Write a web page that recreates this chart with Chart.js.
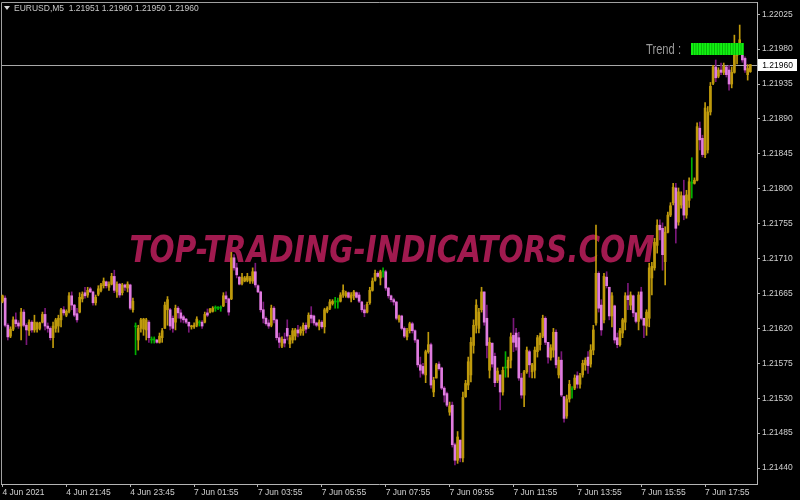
<!DOCTYPE html>
<html>
<head>
<meta charset="utf-8">
<title>EURUSD M5</title>
<script src="https://cdn.jsdelivr.net/npm/chart.js@4.4.1/dist/chart.umd.min.js"></script>
<style>
  html, body { margin: 0; padding: 0; background: #000; }
  #wrap { width: 800px; height: 500px; }
</style>
</head>
<body>
<div id="wrap"><canvas id="chart" width="800" height="500"></canvas></div>
<script>
// EURUSD M5 candles, 4 Jun 2021 evening to 7 Jun 2021 evening
const symbol = 'EURUSD,M5';
const watermarkText = 'TOP-TRADING-INDICATORS.COM';
const trendLabel = 'Trend :';

// time axis labels (one every 24 bars)
const timeLabels = ['4 Jun 2021', '4 Jun 21:45', '4 Jun 23:45', '7 Jun 01:55', '7 Jun 03:55', '7 Jun 05:55',
  '7 Jun 07:55', '7 Jun 09:55', '7 Jun 11:55', '7 Jun 13:55', '7 Jun 15:55', '7 Jun 17:55'];
const timeLabelIndex = [0, 24, 48, 72, 96, 120, 144, 168, 192, 216, 240, 264];

// price axis labels
const priceTicks = [1.22025, 1.21980, 1.21935, 1.21890, 1.21845, 1.21800, 1.21755,
  1.21710, 1.21665, 1.21620, 1.21575, 1.21530, 1.21485, 1.21440];

const open = [
1.21655,1.21659,1.21624,1.21610,1.21619,1.21631,1.21627,1.21623,1.21641,1.21624,
1.21617,1.21628,1.21618,1.21619,1.21620,1.21628,1.21638,1.21623,1.21620,1.21608,
1.21620,1.21623,1.21631,1.21644,1.21637,1.21642,1.21662,1.21650,1.21639,1.21641,
1.21658,1.21666,1.21663,1.21671,1.21667,1.21653,1.21664,1.21669,1.21675,1.21680,
1.21673,1.21677,1.21687,1.21667,1.21677,1.21666,1.21676,1.21672,1.21676,1.21644,
1.21622,1.21605,1.21620,1.21619,1.21618,1.21628,1.21605,1.21605,1.21605,1.21602,
1.21608,1.21620,1.21644,1.21644,1.21633,1.21628,1.21646,1.21640,1.21635,1.21632,
1.21628,1.21622,1.21622,1.21624,1.21627,1.21628,1.21628,1.21640,1.21641,1.21642,
1.21646,1.21646,1.21646,1.21649,1.21662,1.21658,1.21658,1.21711,1.21698,1.21686,
1.21678,1.21681,1.21682,1.21681,1.21681,1.21693,1.21675,1.21667,1.21644,1.21633,
1.21627,1.21624,1.21646,1.21631,1.21608,1.21597,1.21606,1.21620,1.21600,1.21605,
1.21610,1.21618,1.21614,1.21617,1.21624,1.21622,1.21637,1.21636,1.21627,1.21623,
1.21628,1.21622,1.21642,1.21646,1.21652,1.21654,1.21654,1.21655,1.21663,1.21662,
1.21666,1.21659,1.21662,1.21666,1.21663,1.21654,1.21644,1.21641,1.21653,1.21669,
1.21682,1.21691,1.21685,1.21693,1.21693,1.21672,1.21662,1.21657,1.21654,1.21631,
1.21636,1.21620,1.21609,1.21617,1.21626,1.21617,1.21605,1.21573,1.21571,1.21560,
1.21590,1.21599,1.21538,1.21556,1.21574,1.21569,1.21543,1.21536,1.21512,1.21521,
1.21470,1.21450,1.21476,1.21453,1.21532,1.21547,1.21560,1.21598,1.21624,1.21620,
1.21644,1.21667,1.21633,1.21566,1.21601,1.21584,1.21553,1.21560,1.21538,1.21569,
1.21569,1.21579,1.21611,1.21614,1.21608,1.21556,1.21534,1.21564,1.21590,1.21564,
1.21566,1.21590,1.21599,1.21610,1.21633,1.21602,1.21582,1.21592,1.21615,1.21560,
1.21579,1.21532,1.21507,1.21529,1.21541,1.21543,1.21559,1.21548,1.21560,1.21573,
1.21583,1.21574,1.21592,1.21627,1.21691,1.21650,1.21631,1.21686,1.21673,1.21636,
1.21649,1.21608,1.21599,1.21614,1.21628,1.21662,1.21650,1.21662,1.21640,1.21629,
1.21667,1.21633,1.21623,1.21633,1.21685,1.21698,1.21727,1.21753,1.21749,1.21706,
1.21744,1.21766,1.21782,1.21801,1.21757,1.21779,1.21791,1.21766,1.21785,1.21807,
1.21807,1.21811,1.21878,1.21865,1.21844,1.21850,1.21899,1.21936,1.21957,1.21945,
1.21953,1.21950,1.21957,1.21953,1.21935,1.21950,1.21972,1.21976,1.21976,1.21968,
1.21947,1.21951];

const high = [
1.21663,1.21662,1.21626,1.21622,1.21635,1.21640,1.21630,1.21646,1.21644,1.21626,
1.21631,1.21630,1.21637,1.21628,1.21628,1.21641,1.21646,1.21627,1.21622,1.21628,
1.21633,1.21637,1.21646,1.21648,1.21644,1.21666,1.21667,1.21651,1.21646,1.21666,
1.21667,1.21673,1.21673,1.21673,1.21668,1.21663,1.21675,1.21678,1.21685,1.21681,
1.21680,1.21691,1.21695,1.21680,1.21678,1.21678,1.21677,1.21680,1.21677,1.21659,
1.21627,1.21624,1.21633,1.21633,1.21633,1.21630,1.21609,1.21609,1.21606,1.21614,
1.21620,1.21654,1.21661,1.21646,1.21636,1.21650,1.21648,1.21644,1.21637,1.21633,
1.21628,1.21624,1.21627,1.21635,1.21630,1.21630,1.21641,1.21645,1.21646,1.21648,
1.21649,1.21648,1.21649,1.21666,1.21667,1.21659,1.21718,1.21715,1.21704,1.21687,
1.21691,1.21687,1.21691,1.21687,1.21698,1.21704,1.21676,1.21668,1.21654,1.21635,
1.21631,1.21650,1.21648,1.21632,1.21614,1.21609,1.21614,1.21631,1.21611,1.21620,
1.21620,1.21624,1.21622,1.21627,1.21627,1.21640,1.21648,1.21637,1.21628,1.21631,
1.21630,1.21646,1.21648,1.21657,1.21657,1.21660,1.21659,1.21666,1.21676,1.21668,
1.21667,1.21666,1.21669,1.21667,1.21666,1.21655,1.21650,1.21654,1.21673,1.21685,
1.21695,1.21693,1.21695,1.21698,1.21695,1.21673,1.21663,1.21659,1.21655,1.21637,
1.21637,1.21622,1.21620,1.21628,1.21628,1.21618,1.21606,1.21583,1.21575,1.21592,
1.21615,1.21601,1.21557,1.21575,1.21577,1.21570,1.21545,1.21538,1.21525,1.21525,
1.21472,1.21487,1.21476,1.21538,1.21553,1.21583,1.21608,1.21631,1.21657,1.21646,
1.21673,1.21667,1.21650,1.21608,1.21601,1.21588,1.21569,1.21560,1.21570,1.21590,
1.21583,1.21614,1.21633,1.21620,1.21615,1.21562,1.21566,1.21596,1.21592,1.21575,
1.21596,1.21611,1.21614,1.21637,1.21635,1.21602,1.21599,1.21620,1.21618,1.21583,
1.21590,1.21532,1.21534,1.21553,1.21545,1.21560,1.21564,1.21562,1.21579,1.21582,
1.21590,1.21599,1.21624,1.21753,1.21693,1.21657,1.21691,1.21693,1.21673,1.21666,
1.21650,1.21614,1.21620,1.21633,1.21666,1.21678,1.21667,1.21663,1.21640,1.21667,
1.21673,1.21633,1.21644,1.21704,1.21705,1.21736,1.21760,1.21760,1.21756,1.21751,
1.21770,1.21782,1.21807,1.21807,1.21801,1.21796,1.21811,1.21798,1.21814,1.21840,
1.21814,1.21885,1.21886,1.21869,1.21911,1.21906,1.21937,1.21959,1.21966,1.21956,
1.21962,1.21962,1.21958,1.21959,1.21957,1.21998,1.21983,1.22011,1.21979,1.21970,
1.21960,1.21960];

const low = [
1.21653,1.21622,1.21605,1.21608,1.21617,1.21622,1.21620,1.21605,1.21622,1.21599,
1.21611,1.21615,1.21615,1.21615,1.21618,1.21627,1.21618,1.21615,1.21605,1.21595,
1.21615,1.21615,1.21622,1.21637,1.21635,1.21640,1.21644,1.21635,1.21628,1.21640,
1.21654,1.21659,1.21660,1.21666,1.21650,1.21650,1.21662,1.21667,1.21672,1.21672,
1.21669,1.21676,1.21666,1.21660,1.21660,1.21663,1.21669,1.21667,1.21644,1.21641,
1.21586,1.21592,1.21615,1.21611,1.21605,1.21602,1.21601,1.21601,1.21601,1.21601,
1.21602,1.21620,1.21624,1.21618,1.21615,1.21618,1.21633,1.21628,1.21627,1.21626,
1.21615,1.21619,1.21620,1.21622,1.21623,1.21620,1.21627,1.21635,1.21640,1.21641,
1.21642,1.21644,1.21642,1.21648,1.21653,1.21637,1.21657,1.21695,1.21685,1.21676,
1.21676,1.21680,1.21680,1.21678,1.21678,1.21673,1.21666,1.21641,1.21627,1.21624,
1.21620,1.21622,1.21627,1.21605,1.21595,1.21595,1.21596,1.21605,1.21595,1.21601,
1.21605,1.21609,1.21611,1.21611,1.21614,1.21620,1.21627,1.21624,1.21622,1.21618,
1.21620,1.21614,1.21640,1.21644,1.21650,1.21646,1.21646,1.21654,1.21660,1.21660,
1.21659,1.21654,1.21657,1.21659,1.21653,1.21641,1.21635,1.21640,1.21651,1.21668,
1.21681,1.21686,1.21676,1.21686,1.21669,1.21659,1.21654,1.21650,1.21631,1.21628,
1.21618,1.21608,1.21605,1.21614,1.21614,1.21602,1.21570,1.21557,1.21560,1.21550,
1.21588,1.21543,1.21532,1.21556,1.21566,1.21541,1.21525,1.21519,1.21508,1.21467,
1.21444,1.21446,1.21448,1.21448,1.21531,1.21541,1.21551,1.21588,1.21614,1.21614,
1.21641,1.21624,1.21582,1.21556,1.21570,1.21545,1.21550,1.21515,1.21534,1.21557,
1.21557,1.21569,1.21590,1.21592,1.21553,1.21530,1.21519,1.21562,1.21557,1.21556,
1.21556,1.21583,1.21592,1.21608,1.21599,1.21575,1.21579,1.21583,1.21569,1.21556,
1.21532,1.21499,1.21504,1.21525,1.21530,1.21541,1.21543,1.21543,1.21557,1.21566,
1.21562,1.21570,1.21586,1.21624,1.21641,1.21611,1.21627,1.21672,1.21631,1.21622,
1.21601,1.21595,1.21597,1.21608,1.21618,1.21644,1.21644,1.21635,1.21627,1.21618,
1.21631,1.21608,1.21611,1.21622,1.21663,1.21695,1.21717,1.21734,1.21695,1.21676,
1.21743,1.21764,1.21779,1.21730,1.21753,1.21775,1.21760,1.21762,1.21776,1.21788,
1.21806,1.21810,1.21850,1.21841,1.21840,1.21846,1.21895,1.21934,1.21938,1.21943,
1.21947,1.21947,1.21944,1.21927,1.21930,1.21949,1.21961,1.21975,1.21963,1.21950,
1.21940,1.21950];

const close = [
1.21662,1.21624,1.21609,1.21619,1.21631,1.21626,1.21623,1.21641,1.21624,1.21618,
1.21628,1.21618,1.21628,1.21627,1.21627,1.21638,1.21623,1.21620,1.21608,1.21623,
1.21631,1.21633,1.21644,1.21640,1.21642,1.21662,1.21650,1.21637,1.21631,1.21660,
1.21664,1.21662,1.21669,1.21667,1.21653,1.21660,1.21671,1.21676,1.21681,1.21675,
1.21677,1.21687,1.21669,1.21677,1.21663,1.21676,1.21673,1.21677,1.21646,1.21655,
1.21622,1.21620,1.21631,1.21632,1.21631,1.21608,1.21605,1.21605,1.21602,1.21610,
1.21617,1.21650,1.21657,1.21623,1.21620,1.21646,1.21640,1.21633,1.21631,1.21628,
1.21623,1.21623,1.21624,1.21632,1.21627,1.21623,1.21638,1.21637,1.21645,1.21646,
1.21646,1.21646,1.21646,1.21662,1.21658,1.21641,1.21711,1.21698,1.21689,1.21677,
1.21686,1.21685,1.21687,1.21685,1.21693,1.21676,1.21667,1.21644,1.21633,1.21626,
1.21623,1.21646,1.21631,1.21608,1.21602,1.21606,1.21601,1.21610,1.21608,1.21617,
1.21618,1.21614,1.21619,1.21624,1.21619,1.21637,1.21633,1.21627,1.21624,1.21628,
1.21622,1.21644,1.21646,1.21654,1.21655,1.21654,1.21654,1.21663,1.21669,1.21666,
1.21660,1.21663,1.21667,1.21660,1.21655,1.21644,1.21640,1.21651,1.21669,1.21681,
1.21691,1.21687,1.21693,1.21693,1.21672,1.21662,1.21657,1.21654,1.21633,1.21636,
1.21620,1.21610,1.21617,1.21626,1.21617,1.21605,1.21573,1.21566,1.21562,1.21590,
1.21599,1.21547,1.21553,1.21573,1.21568,1.21543,1.21534,1.21521,1.21520,1.21470,
1.21450,1.21480,1.21453,1.21531,1.21549,1.21577,1.21602,1.21624,1.21650,1.21641,
1.21667,1.21628,1.21598,1.21602,1.21574,1.21550,1.21565,1.21538,1.21566,1.21569,
1.21579,1.21609,1.21602,1.21596,1.21556,1.21534,1.21564,1.21592,1.21573,1.21573,
1.21592,1.21608,1.21610,1.21633,1.21602,1.21583,1.21595,1.21615,1.21573,1.21579,
1.21534,1.21504,1.21529,1.21548,1.21541,1.21556,1.21548,1.21559,1.21575,1.21579,
1.21572,1.21592,1.21618,1.21691,1.21646,1.21618,1.21687,1.21675,1.21636,1.21662,
1.21605,1.21599,1.21617,1.21631,1.21662,1.21657,1.21663,1.21640,1.21629,1.21663,
1.21633,1.21624,1.21641,1.21698,1.21700,1.21731,1.21753,1.21747,1.21715,1.21744,
1.21766,1.21778,1.21802,1.21749,1.21796,1.21791,1.21766,1.21792,1.21809,1.21807,
1.21811,1.21880,1.21863,1.21844,1.21904,1.21899,1.21932,1.21957,1.21943,1.21953,
1.21950,1.21958,1.21947,1.21935,1.21950,1.21979,1.21981,1.21992,1.21966,1.21953,
1.21955,1.21960];

// MT4 style colours
const upColor = '#bf9a0c';
const downBody = '#e07ce0';
const downWick = '#7a187a';
const dojiColor = '#00b000';
const axisColor = '#b4b4b4';
const labelColor = '#d0d0d0';

Chart.defaults.font.family = '"Liberation Sans", Arial, sans-serif';

function kind(i) {
  if (close[i] > open[i]) return 'up';
  if (close[i] < open[i]) return 'down';
  return 'doji';
}

const idx = close.map((_, i) => i);
const last = close.length - 1;

// header, watermark, bid line, trend box
const mtOverlay = {
  id: 'mtOverlay',
  beforeDatasetsDraw(chart) {
    const { ctx, chartArea: a, scales: { y } } = chart;
    ctx.save();
    // frame top + left
    ctx.strokeStyle = '#a0a0a0';
    ctx.lineWidth = 1;
    ctx.beginPath();
    ctx.moveTo(a.left + 0.5, a.bottom);
    ctx.lineTo(a.left + 0.5, a.top + 0.5);
    ctx.lineTo(a.right, a.top + 0.5);
    ctx.stroke();

    // watermark
    ctx.font = 'italic bold 38px "DejaVu Sans"';
    const w = ctx.measureText(watermarkText).width;
    ctx.translate(392, 262);
    ctx.scale(525 / w, 1);
    ctx.fillStyle = '#a11a4f';
    ctx.textAlign = 'center';
    ctx.textBaseline = 'alphabetic';
    ctx.fillText(watermarkText, 0, 0);
    ctx.restore();

    // bid line
    const py = Math.round(y.getPixelForValue(close[last])) + 0.5;
    ctx.save();
    ctx.strokeStyle = '#a8a8a8';
    ctx.beginPath();
    ctx.moveTo(a.left, py);
    ctx.lineTo(a.right, py);
    ctx.stroke();
    ctx.restore();
  },
  afterDraw(chart) {
    const { ctx, chartArea: a, scales: { y } } = chart;
    ctx.save();

    // header
    ctx.fillStyle = '#d8d8d8';
    ctx.beginPath();
    ctx.moveTo(a.left + 3, a.top + 4);
    ctx.lineTo(a.left + 9, a.top + 4);
    ctx.lineTo(a.left + 6, a.top + 8);
    ctx.closePath();
    ctx.fill();
    ctx.font = '8.5px "Liberation Sans"';
    ctx.fillStyle = '#c8c8c8';
    ctx.textBaseline = 'alphabetic';
    const head = symbol + '  ' + [open[last], high[last], low[last], close[last]].map(v => v.toFixed(5)).join(' ');
    ctx.fillText(head, a.left + 13, a.top + 9);

    // trend label
    ctx.save();
    ctx.font = '15px "Liberation Sans"';
    ctx.fillStyle = '#9a9a9a';
    const tw = ctx.measureText(trendLabel).width;
    ctx.translate(a.right - 111, a.top + 52);
    ctx.scale(35 / tw, 1);
    ctx.fillText(trendLabel, 0, 0);
    ctx.restore();

    // trend box
    const bx = a.right - 66, by = a.top + 41;
    ctx.fillStyle = '#009a00';
    ctx.fillRect(bx, by, 53, 12);
    ctx.fillStyle = '#12f012';
    for (let k = 0; k < 20; k++) {
      ctx.fillRect(bx + k * 2.65, by, 2, 12);
    }

    // price box on the axis
    const py = Math.round(y.getPixelForValue(close[last]));
    ctx.fillStyle = '#ffffff';
    ctx.fillRect(a.right + 1, py - 6, 39, 12);
    ctx.fillStyle = '#000000';
    ctx.font = '8.5px "Liberation Sans"';
    ctx.textAlign = 'center';
    ctx.textBaseline = 'middle';
    ctx.fillText(close[last].toFixed(5), a.right + 20.5, py + 0.5);
    ctx.restore();
  }
};

const ctx = document.getElementById('chart').getContext('2d');
const chart = new Chart(ctx, {
  type: 'bar',
  data: {
    datasets: [
      {
        label: 'body',
        order: 0,
        grouped: false,
        barThickness: 2,
        minBarLength: 1,
        data: idx.map(i => ({ x: i, y: [open[i], close[i]] })),
        backgroundColor: idx.map(i => ({ up: upColor, down: downBody, doji: dojiColor })[kind(i)])
      },
      {
        label: 'wick',
        order: 1,
        grouped: false,
        barThickness: 1,
        data: idx.map(i => ({ x: i, y: [low[i], high[i]] })),
        backgroundColor: idx.map(i => ({ up: upColor, down: downWick, doji: dojiColor })[kind(i)])
      }
    ]
  },
  options: {
    responsive: false,
    animation: false,
    layout: { padding: { left: 1, top: 2, right: 0, bottom: 0 } },
    plugins: {
      legend: { display: false },
      tooltip: { enabled: false }
    },
    scales: {
      x: {
        type: 'linear',
        min: -0.564,
        max: 283.5,
        offset: false,
        afterBuildTicks: s => { s.ticks = timeLabelIndex.map(v => ({ value: v })); },
        afterFit: s => { s.height = 16; s.paddingLeft = 0; s.paddingRight = 0; },
        grid: { drawOnChartArea: false, drawTicks: true, tickLength: 3, color: axisColor, offset: false },
        border: { display: true, color: axisColor },
        ticks: {
          autoSkip: false,
          maxRotation: 0,
          align: 'start',
          padding: 1,
          color: labelColor,
          font: { size: 8.5 },
          callback: v => timeLabels[timeLabelIndex.indexOf(v)] || ''
        }
      },
      y: {
        position: 'right',
        min: 1.214194,
        max: 1.220407,
        afterBuildTicks: s => { s.ticks = priceTicks.map(v => ({ value: v })); },
        afterFit: s => { s.width = 43; s.paddingTop = 0; s.paddingBottom = 0; },
        grid: { drawOnChartArea: false, drawTicks: true, tickLength: 3, color: axisColor },
        border: { display: true, color: axisColor },
        ticks: {
          padding: 2,
          color: labelColor,
          font: { size: 8.5 },
          callback: v => v.toFixed(5)
        }
      }
    }
  },
  plugins: [mtOverlay]
});
</script>
</body>
</html>
